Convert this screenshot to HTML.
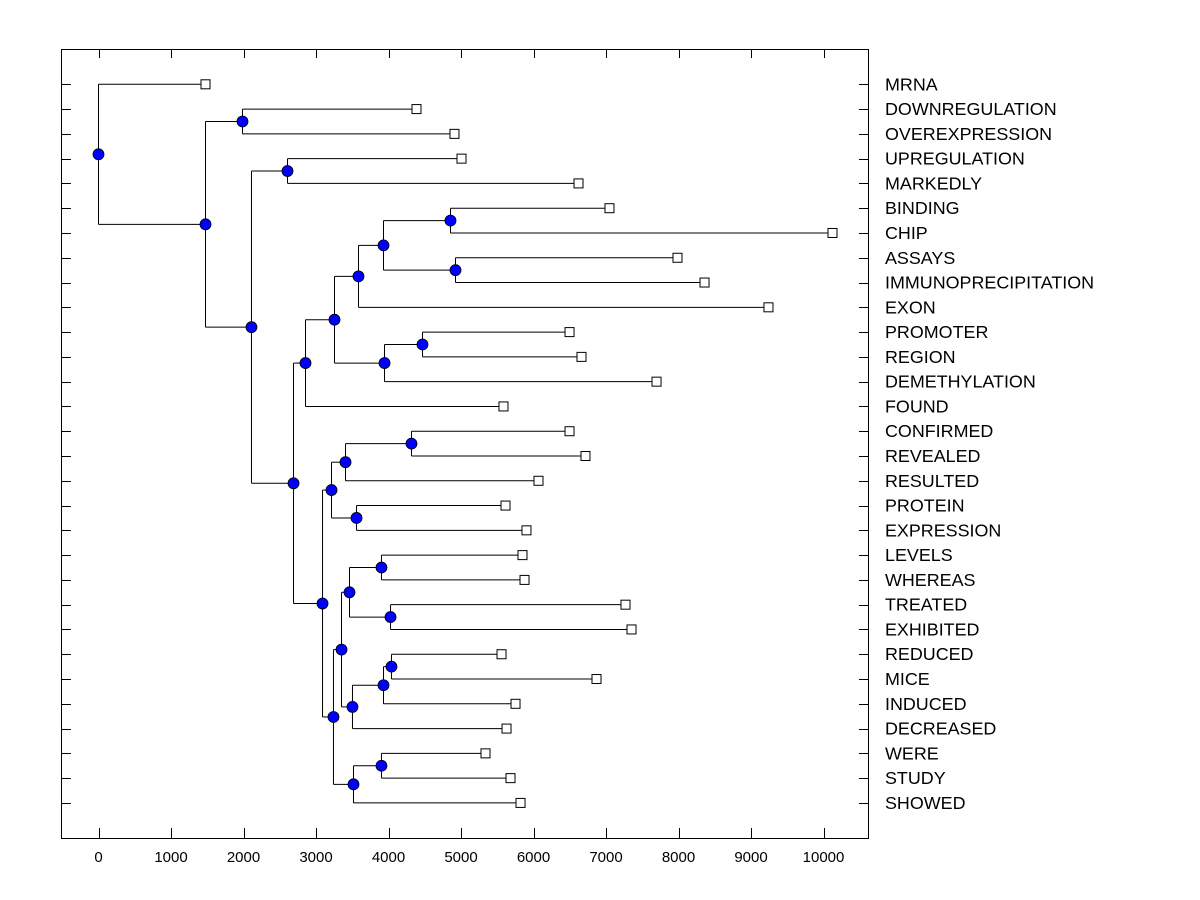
<!DOCTYPE html>
<html><head><meta charset="utf-8"><style>
html,body{margin:0;padding:0;background:#fff}
svg{display:block;font-family:"Liberation Sans",Arial,sans-serif}
</style></head><body>
<svg id="chart" width="1200" height="900" viewBox="0 0 1200 900" xmlns="http://www.w3.org/2000/svg">
<rect x="0" y="0" width="1200" height="900" fill="#fff"/>
<g id="axes"></g>
<g id="tree"></g>
<g id="marks"></g>
<g id="labels"></g>
</svg>
<script>
const leafNames = ["MRNA","DOWNREGULATION","OVEREXPRESSION","UPREGULATION","MARKEDLY","BINDING","CHIP","ASSAYS","IMMUNOPRECIPITATION","EXON","PROMOTER","REGION","DEMETHYLATION","FOUND","CONFIRMED","REVEALED","RESULTED","PROTEIN","EXPRESSION","LEVELS","WHEREAS","TREATED","EXHIBITED","REDUCED","MICE","INDUCED","DECREASED","WERE","STUDY","SHOWED"];
const leafValues = [1476,4386,4910,5007,6621,7048,10124,7986,8359,9241,6497,6662,7697,5586,6497,6717,6069,5614,5903,5848,5876,7269,7352,5559,6869,5752,5628,5338,5683,5821];
// internal nodes: children ("L#" leaf index or "N#" node index) and merge height
const nodeLeft  = ["L1","L3","L5","L7","N2","N4","L10","N6","N5","N8","L14","N10","L17","N11","L19","L21","N14","L23","N17","N18","N16","L27","N21","N20","N13","N9","N1","N0","L0"];
const nodeRight = ["L2","L4","L6","L8","N3","L9","L11","L12","N7","L13","L15","L16","L18","N12","L20","L22","N15","L24","L25","L26","N19","L28","L29","N22","N23","N24","N25","N26","N27"];
const nodeHeight= [1986,2607,4855,4924,3931,3586,4469,3945,3255,2855,4317,3407,3559,3214,3903,4028,3462,4041,3931,3503,3352,3903,3517,3241,3090,2690,2110,1476,0];
const xTicks = [0,1000,2000,3000,4000,5000,6000,7000,8000,9000,10000];
const rootNode = 28;

const NS="http://www.w3.org/2000/svg";
const L=61,R=868,T=49,B=838;
const xs=v=>98.5+v*0.0725;
const rowY=i=>84.3+i*24.78;
function mk(tag,attrs,parent){const e=document.createElementNS(NS,tag);for(const k in attrs)e.setAttribute(k,attrs[k]);parent.appendChild(e);return e;}
const axes=document.getElementById('axes'),tree=document.getElementById('tree'),marks=document.getElementById('marks'),labels=document.getElementById('labels');

const frame=mk('rect',{x:L+0.5,y:T+0.5,width:R-L,height:B-T,fill:'none',stroke:'#000','stroke-width':1},axes);


xTicks.forEach(t=>{
  const x=Math.round(xs(t))+0.5;
  const a=mk('line',{x1:x,x2:x,y1:B,y2:B-10,stroke:'#000'},axes);
  
  
  const b=mk('line',{x1:x,x2:x,y1:T,y2:T+9,stroke:'#000'},axes);
  
  
  const tx=mk('text',{x:xs(t),y:862,'text-anchor':'middle','font-size':15,fill:'#000'},axes);
  tx.textContent=t;
  
  
});
leafNames.forEach((n,i)=>{
  const y=Math.round(rowY(i))+0.5;
  const a=mk('line',{x1:L,x2:L+10,y1:y,y2:y,stroke:'#000'},axes);
  
  
  const b=mk('line',{x1:R-9,x2:R,y1:y,y2:y,stroke:'#000'},axes);
  
  
  const tx=mk('text',{x:885,y:rowY(i)+6,'font-size':17.9,fill:'#000'},labels);
  tx.textContent=n;
  
  
});

function pos(ref){
  const k=ref[0],i=+ref.slice(1);
  if(k==='L')return {x:xs(leafValues[i]),y:rowY(i)};
  const a=pos(nodeLeft[i]),b=pos(nodeRight[i]);
  return {x:xs(nodeHeight[i]),y:(a.y+b.y)/2};
}
const drawn=new Set();
function draw(ref){
  if(drawn.has(ref))return;drawn.add(ref);
  const k=ref[0],i=+ref.slice(1);
  const p=pos(ref);
  if(k==='L'){
    const s=mk('rect',{x:p.x-4.5,y:p.y-4.5,width:9,height:9,fill:'#fff',stroke:'#000'},marks);
    
    
    return;
  }
  const a=pos(nodeLeft[i]),b=pos(nodeRight[i]);
  const v=mk('line',{x1:p.x,x2:p.x,y1:a.y,y2:b.y,stroke:'#000'},tree);
  
  
  [a,b].forEach(c=>{
    const h=mk('line',{x1:p.x,x2:c.x,y1:c.y,y2:c.y,stroke:'#000'},tree);
    
    
  });
  draw(nodeLeft[i]);draw(nodeRight[i]);
  const c=mk('circle',{cx:p.x,cy:p.y,r:5.5,fill:'#0000ff',stroke:'#000','stroke-width':0.8},marks);
  
  
}
draw('N'+rootNode);
</script>
</body></html>
